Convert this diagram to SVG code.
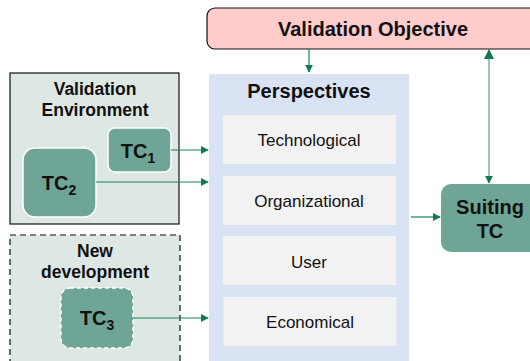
<svg xmlns="http://www.w3.org/2000/svg" width="530" height="361" viewBox="0 0 530 361">
  <style>
    text { font-family: "Liberation Sans", Arial, sans-serif; fill: #111; }
    .title { font-weight: bold; font-size: 20px; text-anchor: middle; }
    .group-title { font-weight: bold; font-size: 17.5px; text-anchor: middle; }
    .tc { fill: #6fa596; stroke: #ffffff; stroke-width: 1.5; }
    .tc-label { font-weight: bold; font-size: 20px; text-anchor: middle; }
    .sub { font-size: 14px; }
    .item { fill: #f2f2f2; }
    .item-label { font-size: 17px; text-anchor: middle; }
    .conn { stroke: #1b7f57; stroke-width: 1.2; fill: none; }
    .conn-light { stroke: #9cc9b6; stroke-width: 2; fill: none; }
  </style>
  <defs>
    <marker id="arrow" viewBox="0 0 10 10" refX="9" refY="5" markerWidth="8" markerHeight="8" markerUnits="userSpaceOnUse" orient="auto-start-reverse">
      <path d="M0,0 L10,5 L0,10 z" fill="#137a4f"/>
    </marker>
    <marker id="arrow-lg" viewBox="0 0 10 10" refX="9" refY="5" markerWidth="10" markerHeight="10" markerUnits="userSpaceOnUse" orient="auto-start-reverse">
      <path d="M0,0 L10,5 L0,10 z" fill="#137a4f"/>
    </marker>
  </defs>

  <!-- Validation objective banner -->
  <g id="validation-objective">
    <rect x="207" y="8" width="340" height="41" rx="8" fill="#ffcccc" stroke="#111" stroke-width="1.2"/>
    <text class="title" x="373" y="36">Validation Objective</text>
  </g>

  <!-- Perspectives column -->
  <g id="perspectives">
    <rect x="209" y="74" width="200" height="300" fill="#dae3f3"/>
    <text class="title" x="309" y="98">Perspectives</text>
  </g>
  <g id="technological">
    <rect class="item" x="223" y="115" width="173" height="49"/>
    <text class="item-label" x="309" y="146">Technological</text>
  </g>
  <g id="organizational">
    <rect class="item" x="223" y="176" width="173" height="49"/>
    <text class="item-label" x="309" y="207">Organizational</text>
  </g>
  <g id="user">
    <rect class="item" x="223" y="236" width="173" height="49"/>
    <text class="item-label" x="309" y="268">User</text>
  </g>
  <g id="economical">
    <rect class="item" x="223.5" y="297" width="173" height="49"/>
    <text class="item-label" x="310" y="328">Economical</text>
  </g>

  <!-- Validation environment -->
  <g id="validation-environment">
    <rect x="10" y="73" width="169" height="151" fill="#dde8e5" stroke="#111" stroke-width="1.2"/>
    <text class="group-title" x="95" y="95">Validation</text>
    <text class="group-title" x="95" y="116">Environment</text>
  </g>
  <g id="tc1">
    <rect class="tc" x="108" y="128" width="63" height="44" rx="7"/>
    <text class="tc-label" x="138" y="158">TC<tspan class="sub" dy="5">1</tspan></text>
  </g>
  <g id="tc2">
    <rect class="tc" x="23" y="148" width="73" height="69" rx="12"/>
    <text class="tc-label" x="59" y="190">TC<tspan class="sub" dy="5">2</tspan></text>
  </g>

  <!-- New development -->
  <g id="new-development">
    <rect x="10" y="235" width="170" height="140" fill="#dde8e5" stroke="#111" stroke-width="1.2" stroke-dasharray="6,4"/>
    <text class="group-title" x="95" y="257">New</text>
    <text class="group-title" x="95" y="278">development</text>
  </g>
  <g id="tc3">
    <rect class="tc" x="61" y="288" width="72" height="60" rx="9" stroke-dasharray="4,3"/>
    <text class="tc-label" x="97" y="325">TC<tspan class="sub" dy="5">3</tspan></text>
  </g>

  <!-- Suiting TC -->
  <g id="suiting-tc">
    <rect x="441" y="184" width="110" height="68" rx="10" fill="#6fa596"/>
    <text class="tc-label" x="490" y="214">Suiting</text>
    <text class="tc-label" x="490" y="238">TC</text>
  </g>

  <!-- Connectors -->
  <g id="connectors">
    <line class="conn" x1="309" y1="49" x2="309" y2="72" marker-end="url(#arrow)"/>
    <line class="conn" x1="171" y1="150" x2="208" y2="150" marker-end="url(#arrow)"/>
    <line class="conn" x1="96" y1="182" x2="208" y2="182" marker-end="url(#arrow)"/>
    <line class="conn" x1="133" y1="318" x2="208" y2="318" marker-end="url(#arrow)"/>
    <line class="conn" x1="411" y1="217" x2="440" y2="217" marker-end="url(#arrow)"/>
    <line class="conn-light" x1="489" y1="50" x2="489" y2="183" marker-start="url(#arrow-lg)" marker-end="url(#arrow)"/>
  </g>
</svg>
